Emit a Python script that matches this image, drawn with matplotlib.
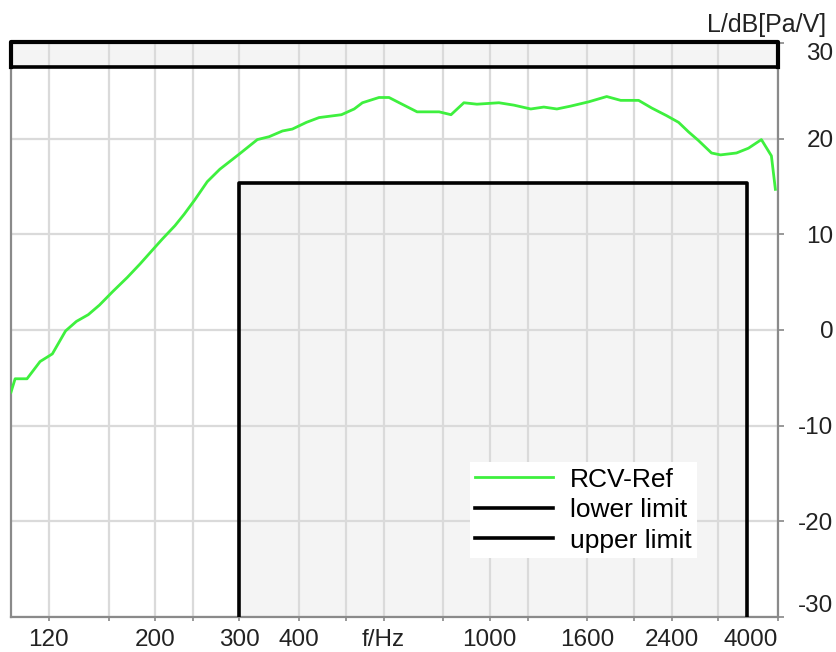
import matplotlib
matplotlib.use("Agg")
from matplotlib import pyplot as plt

# measured RCV-Ref curve (frequency in Hz, level in dB[Pa/V])
freq = [100, 102, 108, 115, 122, 130, 137, 145, 153, 163, 175, 186, 197, 207,
        220, 230, 242, 257, 273, 300, 327, 346, 369, 387, 414, 440, 490, 521,
        542, 587, 616, 647, 705, 784, 830, 883, 940, 1045, 1123, 1218, 1297,
        1381, 1476, 1610, 1755, 1877, 2046, 2179, 2341, 2480, 2602, 2729, 2905,
        3034, 3276, 3470, 3693, 3875, 3950]
level = [-6.5, -5.1, -5.1, -3.3, -2.5, -0.1, 0.9, 1.6, 2.6, 4.0, 5.5, 6.9, 8.3,
         9.5, 10.9, 12.1, 13.6, 15.5, 16.8, 18.4, 19.9, 20.2, 20.8, 21.0, 21.7,
         22.2, 22.5, 23.1, 23.75, 24.3, 24.3, 23.75, 22.8, 22.8, 22.5, 23.75,
         23.6, 23.75, 23.5, 23.1, 23.3, 23.1, 23.4, 23.85, 24.4, 24.0, 24.0,
         23.2, 22.4, 21.7, 20.7, 19.8, 18.5, 18.3, 18.5, 19.0, 19.9, 18.2, 14.7]

# mask limits
lower_f = [300, 300, 3450, 3450]
lower_db = [-40, 15.4, 15.4, -40]
upper_f = [100, 4000]
upper_db = [27.5, 27.5]

grid_f = [120, 160, 200, 240, 300, 400, 500, 600, 800, 1000, 1200, 1600,
          2000, 2400, 3000, 4000]
xlabels = {120: "120", 200: "200", 300: "300", 400: "400", 600: "f/Hz",
           1000: "1000", 1600: "1600", 2400: "2400", 4000: "4000"}
y_ticks = [-30, -20, -10, 0, 10, 20, 30]

xmin, xmax = 100, 4000
ymin, ymax = -29.8, 30.1

plt.rcParams['font.family'] = ['Liberation Sans', 'DejaVu Sans']

fig = plt.figure(figsize=(8.36, 6.52), dpi=100)
ax = fig.add_axes([11 / 836, 1 - 617 / 652, 767 / 836, 575 / 652])
ax.set_xscale('log')
ax.set_xlim(xmin, xmax)
ax.set_ylim(ymin, ymax)

# shaded forbidden areas
ax.fill_between(lower_f, lower_db, ymin - 20, facecolor='#f4f4f4',
                edgecolor='none', zorder=0.2)
ax.fill_between(upper_f, upper_db, ymax, facecolor='#f4f4f4',
                edgecolor='none', zorder=0.2)

ax.grid(True, color='#dadada', linewidth=1.6, zorder=0.5)
ax.set_axisbelow(True)

ax.plot(freq, level, color='#3ef03e', linewidth=2.0, label='RCV-Ref', zorder=3)
ax.plot(lower_f, lower_db, color='black', linewidth=2.6, label='lower limit',
        zorder=4)
ax.plot(upper_f, upper_db, color='black', linewidth=2.6, label='upper limit',
        zorder=4)
# outline of upper box
ax.plot([upper_f[0], upper_f[0], upper_f[1], upper_f[1]],
        [upper_db[0], ymax, ymax, upper_db[1]], color='black',
        linewidth=3.0, zorder=5, clip_on=False)

ax.set_xticks(grid_f)
ax.set_xticklabels([xlabels.get(f, "") for f in grid_f])
ax.xaxis.set_minor_locator(matplotlib.ticker.NullLocator())
ax.tick_params(axis='x', length=3, width=1.2, color='#888888', pad=6,
               labelsize=17.5, labelcolor='#222222')
for t in ax.xaxis.get_major_ticks():
    if t.get_loc() == 4000:
        t.label1.set_horizontalalignment('right')

ax.yaxis.tick_right()
ax.set_yticks(y_ticks)
ax.set_yticklabels([str(v) for v in y_ticks])
ax.tick_params(axis='y', length=4, width=1.2, color='#888888', pad=36,
               labelsize=17.5, labelcolor='#222222')
for t in ax.yaxis.get_major_ticks():
    t.label2.set_horizontalalignment('right')
    if t.get_loc() == 30:
        t.label2.set_verticalalignment('top')
    if t.get_loc() == -30:
        t.label2.set_verticalalignment('bottom')

for side in ['left', 'bottom', 'right']:
    ax.spines[side].set_color('#8a8a8a')
    ax.spines[side].set_linewidth(1.6)
ax.spines['top'].set_visible(False)

fig.text(826 / 836, 1 - 32 / 652, "L/dB[Pa/V]", ha='right', va='baseline',
         fontsize=18, color='#222222')

leg = ax.legend(loc='lower left', bbox_to_anchor=(0.598, 0.1026),
                fontsize=19, frameon=True, fancybox=False, framealpha=1.0,
                edgecolor='none', handlelength=2.95, handletextpad=0.64,
                borderpad=0.2, labelspacing=0.25, borderaxespad=0)
leg.set_zorder(10)

fig.savefig("out.png", dpi=100)
plt.close(fig)
print("Done")
